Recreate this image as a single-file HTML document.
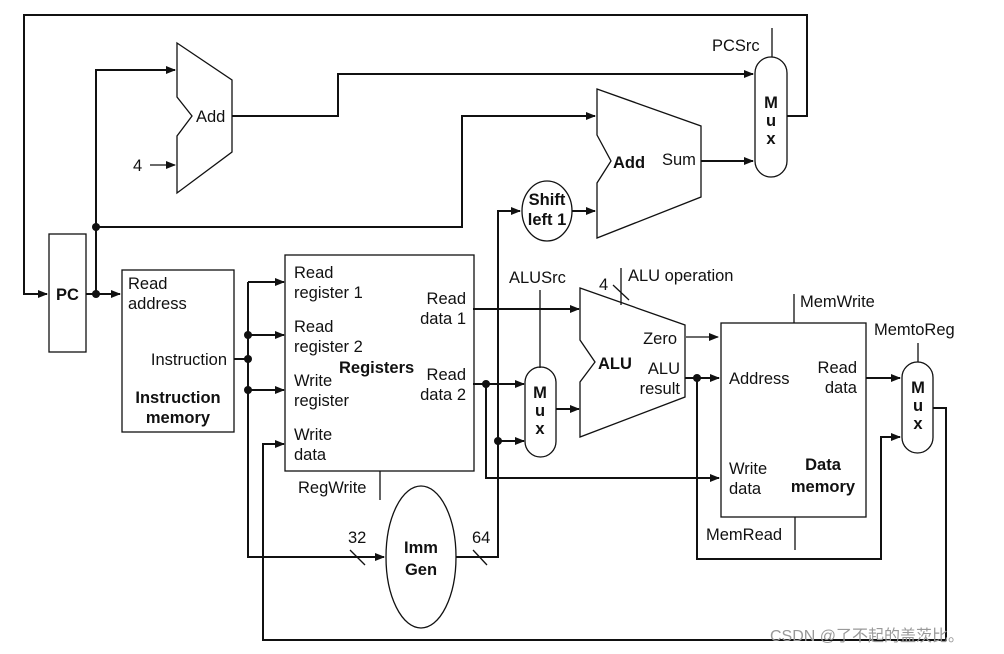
<!DOCTYPE html>
<html><head><meta charset="utf-8"><style>
html,body{margin:0;padding:0;background:#fff}
svg{display:block}
text{font-family:"Liberation Sans","Noto Sans CJK SC",sans-serif;font-size:16.5px;fill:#111}
.b{font-weight:bold}
</style></head><body>
<svg width="1004" height="654" viewBox="0 0 1004 654" xmlns="http://www.w3.org/2000/svg">
<defs>
<marker id="a" markerWidth="10" markerHeight="8" refX="9" refY="4" orient="auto" markerUnits="userSpaceOnUse">
<path d="M0,0 L10,4 L0,8 Z" fill="#111"/></marker>
</defs>
<g fill="none" stroke="#111" stroke-width="2">
<polyline points="787,116 807,116 807,15 24,15 24,294 47,294" marker-end="url(#a)"/>
<polyline points="86,294 120,294" marker-end="url(#a)"/>
<polyline points="96,294 96,70 175,70" marker-end="url(#a)"/>
<polyline points="96,227 462,227 462,116 595,116" marker-end="url(#a)"/>
<polyline points="232,116 338,116 338,74 753,74" marker-end="url(#a)"/>
<polyline points="701,161 753,161" marker-end="url(#a)"/>
<polyline points="234,359 248,359"/>
<polyline points="248,282 248,557 384,557" marker-end="url(#a)"/>
<polyline points="248,282 284,282" marker-end="url(#a)"/>
<polyline points="248,335 284,335" marker-end="url(#a)"/>
<polyline points="248,390 284,390" marker-end="url(#a)"/>
<polyline points="933,408 946,408 946,640 263,640 263,444 284,444" marker-end="url(#a)"/>
<polyline points="473,309 579,309" marker-end="url(#a)"/>
<polyline points="473,384 524,384" marker-end="url(#a)"/>
<polyline points="486,384 486,478 719,478" marker-end="url(#a)"/>
<polyline points="456,557 498,557 498,211 520,211" marker-end="url(#a)"/>
<polyline points="498,441 524,441" marker-end="url(#a)"/>
<polyline points="572,211 595,211" marker-end="url(#a)"/>
<polyline points="556,409 579,409" marker-end="url(#a)"/>
<polyline points="685,378 719,378" marker-end="url(#a)"/>
<polyline points="697,378 697,559 881,559 881,437 900,437" marker-end="url(#a)"/>
<polyline points="866,378 900,378" marker-end="url(#a)"/>
</g>
<g fill="none" stroke="#111" stroke-width="1.3">
<polyline points="686,337 718,337" marker-end="url(#a)"/>
<polyline points="150,165 175,165" marker-end="url(#a)"/>
<line x1="772" y1="28" x2="772" y2="57"/>
<line x1="540" y1="290" x2="540" y2="368"/>
<line x1="621" y1="268" x2="621" y2="305"/>
<line x1="613" y1="285" x2="629" y2="300"/>
<line x1="794" y1="294" x2="794" y2="323"/>
<line x1="795" y1="517" x2="795" y2="550"/>
<line x1="918" y1="343" x2="918" y2="362"/>
<line x1="380" y1="471" x2="380" y2="500"/>
<line x1="350" y1="550" x2="365" y2="565"/>
<line x1="473" y1="550" x2="487" y2="565"/>
<rect x="49" y="234" width="37" height="118"/>
<rect x="122" y="270" width="112" height="162"/>
<rect x="285" y="255" width="189" height="216"/>
<rect x="721" y="323" width="145" height="194"/>
<polygon points="177,43 232,80 232,152 177,193 177,136 192,116 177,97"/>
<polygon points="597,89 701,126 701,197 597,238 597,183 611,161 597,135"/>
<polygon points="580,288 685,325 685,397 580,437 580,382 595,362 580,340"/>
<rect x="755" y="57" width="32" height="120" rx="16"/>
<rect x="525" y="367" width="31" height="90" rx="15.5"/>
<rect x="902" y="362" width="31" height="91" rx="15.5"/>
<ellipse cx="547" cy="211" rx="25" ry="30"/>
<ellipse cx="421" cy="557" rx="35" ry="71"/>
</g>
<g fill="#111">
<circle cx="96" cy="294" r="4"/><circle cx="96" cy="227" r="4"/>
<circle cx="248" cy="335" r="4"/><circle cx="248" cy="359" r="4"/><circle cx="248" cy="390" r="4"/>
<circle cx="486" cy="384" r="4"/><circle cx="498" cy="441" r="4"/><circle cx="697" cy="378" r="4"/>
</g>
<text x="56" y="300" class="b">PC</text>
<text x="196" y="122">Add</text>
<text x="133" y="171">4</text>
<text x="712" y="51">PCSrc</text>
<text x="613" y="168" class="b">Add</text>
<text x="662" y="165">Sum</text>
<text x="547" y="205" class="b" text-anchor="middle">Shift</text>
<text x="547" y="225" class="b" text-anchor="middle">left 1</text>
<text x="128" y="289">Read</text><text x="128" y="309">address</text>
<text x="227" y="365" text-anchor="end">Instruction</text>
<text x="178" y="403" class="b" text-anchor="middle">Instruction</text>
<text x="178" y="423" class="b" text-anchor="middle">memory</text>
<text x="294" y="278">Read</text><text x="294" y="298">register 1</text>
<text x="294" y="332">Read</text><text x="294" y="352">register 2</text>
<text x="294" y="386">Write</text><text x="294" y="406">register</text>
<text x="294" y="440">Write</text><text x="294" y="460">data</text>
<text x="339" y="373" class="b">Registers</text>
<text x="466" y="304" text-anchor="end">Read</text><text x="466" y="324" text-anchor="end">data 1</text>
<text x="466" y="380" text-anchor="end">Read</text><text x="466" y="400" text-anchor="end">data 2</text>
<text x="298" y="493">RegWrite</text>
<text x="421" y="553" class="b" text-anchor="middle">Imm</text>
<text x="421" y="575" class="b" text-anchor="middle">Gen</text>
<text x="348" y="543">32</text>
<text x="472" y="543">64</text>
<text x="509" y="283">ALUSrc</text>
<text x="599" y="290">4</text>
<text x="628" y="281">ALU operation</text>
<text x="540" y="398" class="b" text-anchor="middle">M</text>
<text x="540" y="416" class="b" text-anchor="middle">u</text>
<text x="540" y="434" class="b" text-anchor="middle">x</text>
<text x="771" y="108" class="b" text-anchor="middle">M</text>
<text x="771" y="126" class="b" text-anchor="middle">u</text>
<text x="771" y="144" class="b" text-anchor="middle">x</text>
<text x="918" y="393" class="b" text-anchor="middle">M</text>
<text x="918" y="411" class="b" text-anchor="middle">u</text>
<text x="918" y="429" class="b" text-anchor="middle">x</text>
<text x="598" y="369" class="b">ALU</text>
<text x="677" y="344" text-anchor="end">Zero</text>
<text x="680" y="374" text-anchor="end">ALU</text>
<text x="680" y="394" text-anchor="end">result</text>
<text x="800" y="307">MemWrite</text>
<text x="874" y="335">MemtoReg</text>
<text x="729" y="384">Address</text>
<text x="857" y="373" text-anchor="end">Read</text>
<text x="857" y="393" text-anchor="end">data</text>
<text x="729" y="474">Write</text><text x="729" y="494">data</text>
<text x="823" y="470" class="b" text-anchor="middle">Data</text>
<text x="823" y="492" class="b" text-anchor="middle">memory</text>
<text x="706" y="540">MemRead</text>
<text x="770" y="641" style="fill:#999;font-size:16px">CSDN @了不起的盖茨比。</text>
</svg>
</body></html>
